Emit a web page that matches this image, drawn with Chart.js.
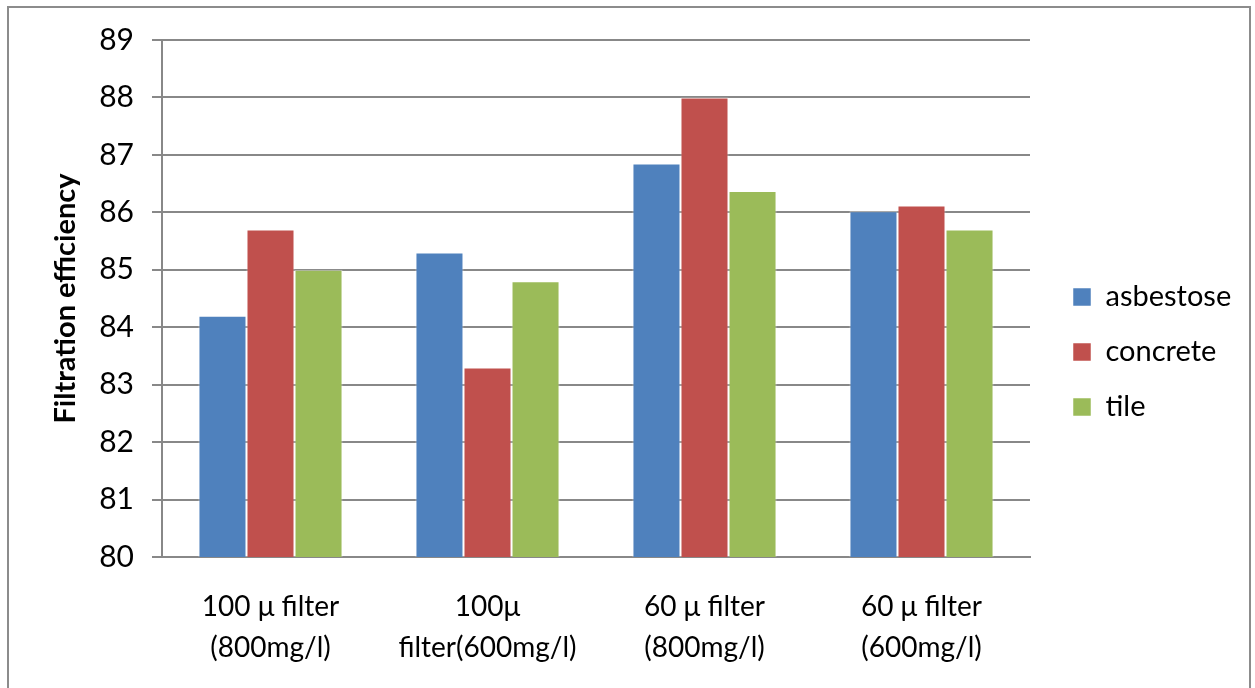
<!DOCTYPE html>
<html>
<head>
<meta charset="utf-8">
<script src="https://cdn.jsdelivr.net/npm/chart.js@4/dist/chart.umd.min.js"></script>
<style>
  html, body { margin: 0; padding: 0; background: #fff; }
  #wrap { position: relative; width: 1255px; height: 688px; overflow: hidden; }
  #frame { position: absolute; left: 7px; top: 6px; width: 1244px; height: 700px; border: 2px solid #8c8c8c; box-sizing: border-box; }
  #myChart { position: absolute; left: 0; top: 0; }
</style>
</head>
<body>
<div id="wrap">
  <div id="frame"></div>
  <canvas id="myChart" width="1255" height="688"></canvas>
</div>
<script>
// data
const categories = [
  ['100 \u03bc filter', '(800mg/l)'],
  ['100\u03bc', 'filter(600mg/l)'],
  ['60 \u03bc filter', '(800mg/l)'],
  ['60 \u03bc filter', '(600mg/l)']
];
const seriesNames = ['asbestose', 'concrete', 'tile'];
const asbestose = [84.2, 85.3, 86.85, 86.02];
const concrete = [85.7, 83.3, 88.0, 86.12];
const tile = [85.0, 84.8, 86.37, 85.7];
const yTicks = [80, 81, 82, 83, 84, 85, 86, 87, 88, 89];

const colors = ['#4F81BD', '#C0504D', '#9BBB59'];
const fontFam = 'Lato, "Open Sans", sans-serif';

// legend gets a fixed width so the plot ends where the original does,
// then is nudged to sit where the original legend sits
const fixLegend = {
  id: 'fixLegend',
  afterInit(chart) {
    const lg = chart.legend;
    const orig = lg.fit;
    lg.fit = function () {
      orig.call(this);
      this.width = 225;
    };
  },
  afterLayout(chart) {
    const lg = chart.legend;
    lg.left += 17;
    lg.right += 17;
    lg.top -= 9;
    lg.bottom -= 9;
  }
};

const ctx = document.getElementById('myChart').getContext('2d');
new Chart(ctx, {
  type: 'bar',
  data: {
    labels: categories,
    datasets: [asbestose, concrete, tile].map((vals, i) => ({
      label: seriesNames[i],
      data: vals,
      backgroundColor: colors[i],
      borderColor: 'rgba(255,255,255,0.5)',
      borderWidth: 1,
      categoryPercentage: 0.664,
      barPercentage: 1.0
    }))
  },
  plugins: [fixLegend],
  options: {
    responsive: false,
    animation: false,
    layout: { padding: { top: 40, right: 0, bottom: 6, left: 0 } },
    plugins: {
      legend: {
        position: 'right',
        align: 'center',
        labels: {
          color: '#000',
          font: { family: fontFam, size: 29 },
          boxWidth: 18,
          boxHeight: 18,
          padding: 26
        }
      },
      tooltip: { enabled: false }
    },
    scales: {
      x: {
        grid: { display: false, drawTicks: false },
        border: { color: '#888', width: 2 },
        ticks: {
          color: '#000',
          font: { family: fontFam, size: 28, lineHeight: 1.45 },
          padding: 30,
          maxRotation: 0
        },
        afterFit: (s) => { s.height = 125; }
      },
      y: {
        min: 80,
        max: 89,
        afterBuildTicks: (s) => { s.ticks = yTicks.map(v => ({ value: v })); },
        grid: { color: '#888', lineWidth: 2, tickLength: 10 },
        border: { color: '#888', width: 2 },
        ticks: {
          color: '#000',
          font: { family: fontFam, size: 30 },
          padding: 18
        },
        title: {
          display: true,
          text: 'Filtration efficiency',
          color: '#000',
          font: { family: fontFam, size: 29, weight: 'bold' },
          padding: { top: 48, bottom: 0 }
        },
        afterFit: (s) => { s.width = 162; }
      }
    }
  }
});
</script>
</body>
</html>
